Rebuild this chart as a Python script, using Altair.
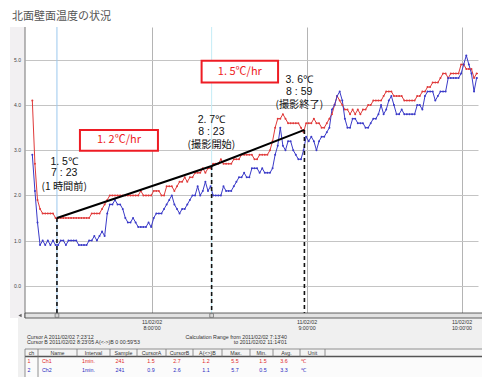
import altair as alt
import pandas as pd

# ---------------- data ----------------
title_text = "北面壁面温度の状況"
T0 = 7 * 60 + 13 + 40 / 60  # first sample 7:13'40, 1 min interval

ch1 = [4.1, 2.7, 1.9, 1.7, 1.6, 1.6, 1.6, 1.6, 1.6, 1.5,
       1.5, 1.5, 1.5, 1.5, 1.5, 1.5, 1.5, 1.5, 1.5, 1.5, 1.5, 1.5, 1.5,
       1.6, 1.6, 1.6, 1.6,
       1.7, 1.8, 1.9,
       2.0, 2.0, 2.0, 2.0, 2.0, 2.0, 2.0, 2.0, 2.0, 2.0,
       2.0, 2.0, 2.1, 2.0, 2.0, 2.0, 2.0,
       2.1, 2.1, 2.1, 2.0, 2.0,
       2.2, 2.2, 2.2, 2.1, 2.2,
       2.3, 2.3, 2.4, 2.3,
       2.4, 2.4, 2.5, 2.5, 2.5,
       2.6, 2.5, 2.6, 2.6,
       2.7, 2.7, 2.7, 2.8, 2.7, 2.7, 2.7, 2.7,
       2.8, 2.8, 2.8, 2.9, 2.9, 2.9, 2.9,
       2.9, 2.8, 2.8, 2.9, 2.9, 2.9, 2.9, 3.0, 3.2,
       3.5, 3.7, 3.7, 3.8, 3.7, 3.6, 3.6, 3.6, 3.6, 3.6, 3.5, 3.4,
       3.6, 3.6, 3.6, 3.7, 3.6, 3.6, 3.5, 3.5, 3.6, 3.7, 3.8, 4.0,
       4.2, 4.1, 4.0, 3.9, 3.9, 3.8, 3.9, 3.8, 3.9, 3.8, 3.9, 3.9,
       4.0, 4.0, 4.1, 4.1, 4.1, 4.1, 4.2, 4.3, 4.3, 4.3, 4.2, 4.2,
       4.2, 4.2, 4.1, 4.1, 4.1, 4.1, 4.1, 4.2, 4.2, 4.3, 4.3, 4.4,
       4.4, 4.5, 4.5, 4.5, 4.6, 4.7, 4.7, 4.6, 4.7, 4.7, 4.7, 4.7,
       4.9, 4.9, 4.8, 4.8, 4.8, 4.6, 4.7, 4.7]

ch2 = [2.9, 2.1, 1.4, 0.9, 1.0, 0.9, 1.0, 0.9, 1.0, 0.9,
       0.9, 1.0, 1.0, 0.9, 1.0, 1.0, 1.0, 1.0, 0.9, 0.9,
       0.9, 0.9, 1.0, 1.0, 1.1, 1.0, 1.1, 1.2, 1.1, 1.6,
       1.8, 1.8, 1.9, 1.8, 1.8, 1.7, 1.5, 1.4, 1.4, 1.5,
       1.4, 1.3, 1.3, 1.3, 1.3, 1.4, 1.3, 1.5, 1.6, 1.6,
       1.6, 1.7, 1.8, 1.9, 2.0, 1.8, 1.7, 1.6, 1.7, 1.7,
       1.8, 1.9, 2.0, 2.0, 2.2, 2.0, 2.1, 2.3, 2.1, 2.2,
       2.0, 2.0, 2.0, 2.0, 2.2, 2.1, 2.1, 2.1, 2.2, 2.3,
       2.4, 2.4, 2.5, 2.4, 2.4, 2.6, 2.6, 2.6, 2.5, 2.6,
       2.5, 2.5, 2.5, 2.6, 2.9, 3.1, 3.5, 3.1, 3.0, 3.2,
       3.2, 3.0, 2.9, 2.8, 2.8, 3.0, 3.3, 3.2, 3.3, 3.2,
       3.0, 3.2, 3.3, 3.3, 3.4, 3.5, 3.9, 4.0, 4.2, 4.3,
       4.1, 3.7, 3.5, 3.5, 3.7, 3.7, 3.6, 3.6, 3.6, 3.5,
       3.5, 3.6, 3.7, 3.7, 3.8, 4.0, 3.8, 3.9, 4.1, 4.2,
       4.0, 3.8, 3.8, 3.9, 3.8, 3.8, 3.8, 3.8, 3.8, 4.0,
       4.0, 3.9, 4.2, 4.3, 4.3, 4.3, 4.1, 4.2, 4.3, 4.3,
       4.3, 4.6, 4.6, 4.6, 4.6, 4.6, 4.7, 4.9, 5.1, 4.9,
       4.7, 4.3, 4.6, 4.6]

series_names = ["Ch1", "Ch2"]
series_colors = ["#e03a3a", "#3a3ac8"]

x_tick_values = [480, 540, 600]
x_tick_labels = ["11/02/02\n8:00'00", "11/02/02\n9:00'00", "11/02/02\n10:00'00"]
y_tick_values = [0, 1, 2, 3, 4, 5]

cursor_times = [443.2, 503.083]          # Cursor A 7:23'12, Cursor B 8:23'05
cursor_colors = ["#9cc8ee", "#c4ecf6"]

trend_times = [443.2, 503.083, 539.0]    # 7:23, 8:23, 8:59
trend_vals = [1.5, 2.65, 3.45]

# annotation blocks: temperature / time lines (latin) and note line (CJK)
ann_t_latin = [446, 446, 503, 503, 537, 537]
ann_v_latin = [2.746, 2.485, 3.681, 3.415, 4.567, 4.301]
ann_s_latin = ["1. 5℃", "7 : 23", "2. 7℃", "8 : 23", "3. 6℃", "8 : 59"]
ann_t_cjk = [446, 503, 537]
ann_v_cjk = [2.186, 3.116, 4.003]
ann_s_cjk = ["(1 時間前)", "(撮影開始)", "(撮影終了)"]

rate_t1 = [452.1, 499.2]
rate_t2 = [482.3, 528.8]
rate_v1 = [3.45, 4.98]
rate_v2 = [2.99, 4.50]
rate_texts = ["1. 2℃/hr", "1. 5℃/hr"]

cursor_info = ["Cursor A 2011/02/02   7:23'12",
               "Cursor B 2011/02/02   8:23'05   A(<->)B 0 00:59'53"]
calc_info = ["Calculation Range from 2011/02/02   7:13'40",
             "to 2011/02/02  11:14'01"]

table_header = ["ch", "Name", "Interval", "Sample", "CursorA", "CursorB",
                "A(<>)B", "Max.", "Min.", "Avg.", "Unit"]
table_rows = [["1", "Ch1", "1min.", "241", "1.5", "2.7", "1.2", "5.5", "1.5", "3.6", "℃"],
              ["2", "Ch2", "1min.", "241", "0.9", "2.6", "1.1", "5.7", "0.5", "3.3", "℃"]]

# ---------------- layout ----------------
W, H = 453, 286
XDOM = [430.83, 606.2]
YDOM = [-0.605, 5.73]
xs = alt.Scale(domain=XDOM, nice=False, zero=False)
ys = alt.Scale(domain=YDOM, nice=False, zero=False)
xa = alt.Axis(values=x_tick_values, grid=True, gridColor="#b4b4b4", gridWidth=1,
              labels=False, ticks=False, domain=False, title="")
ya = alt.Axis(values=y_tick_values, grid=True, gridColor="#c4c4c4", gridWidth=1,
              labels=False, ticks=False, domain=False, title="")

def X(f="t"):
    return alt.X(f"{f}:Q", scale=xs, axis=xa)

def Y(f="v"):
    return alt.Y(f"{f}:Q", scale=ys, axis=ya)

one = pd.DataFrame({"k": [0]})
SMALL = "Liberation Sans"
JP = "Noto Sans CJK JP"

def txt(x, y, s, size=5.3, color="#333333", align="center", font=SMALL, baseline="middle"):
    return alt.Chart(one).mark_text(text=s, fontSize=size, color=color, align=align,
                                    baseline=baseline, font=font).encode(
        x=alt.value(x), y=alt.value(y))

def rect(x, x2, y, y2, fill, stroke="", sw=0.0):
    kw = dict(fill=fill)
    if stroke:
        kw.update(stroke=stroke, strokeWidth=sw)
    return alt.Chart(one).mark_rect(**kw).encode(
        x=alt.value(x), x2=alt.value(x2), y=alt.value(y), y2=alt.value(y2))

def hline(x, x2, y, color="#555555", sw=1.0):
    return alt.Chart(one).mark_rule(color=color, strokeWidth=sw).encode(
        x=alt.value(x), x2=alt.value(x2), y=alt.value(y))

def vline(x, y, y2, color="#555555", sw=1.0):
    return alt.Chart(one).mark_rule(color=color, strokeWidth=sw).encode(
        x=alt.value(x), y=alt.value(y), y2=alt.value(y2))

layers = []

# backgrounds
layers.append(rect(-15, 0, 0, 291, "#f2f0f2"))
layers.append(rect(-7, 465, 291, 350, "#f0f0f0"))
layers.append(rect(0, 465, 322, 350, "#fbfbfb"))

lines_df = pd.DataFrame({
    "t": [T0 + i for i in range(len(ch1))] + [T0 + i for i in range(len(ch2))],
    "v": ch1 + ch2,
    "ch": ["Ch1"] * len(ch1) + ["Ch2"] * len(ch2),
})

cur_df = pd.DataFrame({"t": cursor_times, "c": cursor_colors})
layers.append(alt.Chart(cur_df).mark_rule(strokeWidth=1).encode(
    x=X(), color=alt.Color("c:N", scale=None), y=alt.value(0), y2=alt.value(H)))

layers.append(vline(0, 0, 291, "#8a8a8a", 1.2))

layers.append(alt.Chart(lines_df).mark_line(
    strokeWidth=1, clip=True,
    point=alt.OverlayMarkDef(filled=True, size=4, clip=True)).encode(
    x=X(), y=Y(),
    color=alt.Color("ch:N", scale=alt.Scale(domain=series_names, range=series_colors), legend=None),
    detail="ch:N"))

# dashed drop lines and trend line
trend_df = pd.DataFrame({"t": trend_times, "v": trend_vals})
layers.append(alt.Chart(trend_df).mark_rule(color="#111111", strokeWidth=1.6, strokeDash=[4, 3]).encode(
    x=X(), y=Y(), y2=alt.value(H + 4)))
layers.append(alt.Chart(trend_df).mark_line(color="#000000", strokeWidth=2).encode(x=X(), y=Y()))

# rate boxes
rate_df = pd.DataFrame({"t": rate_t1, "t2": rate_t2, "v": rate_v1, "v2": rate_v2,
                        "tc": [(a + b) / 2 for a, b in zip(rate_t1, rate_t2)],
                        "vc": [(a + b) / 2 for a, b in zip(rate_v1, rate_v2)],
                        "s": rate_texts})
layers.append(alt.Chart(rate_df).mark_rect(fill="#ffffff", stroke="#ee1c24", strokeWidth=2).encode(
    x=X(), x2="t2:Q", y=Y(), y2="v2:Q"))
layers.append(alt.Chart(rate_df).mark_text(fontSize=11, color="#ee1c24", font=JP, baseline="middle").encode(
    x=alt.X("tc:Q", scale=xs, axis=xa), y=alt.Y("vc:Q", scale=ys, axis=ya), text="s:N"))

# annotations
ann_latin_df = pd.DataFrame({"t": ann_t_latin, "v": ann_v_latin, "s": ann_s_latin})
layers.append(alt.Chart(ann_latin_df).mark_text(fontSize=10.5, color="#111111", font="Liberation Sans",
                                                baseline="middle").encode(
    x=X(), y=Y(), text="s:N"))
ann_cjk_df = pd.DataFrame({"t": ann_t_cjk, "v": ann_v_cjk, "s": ann_s_cjk})
layers.append(alt.Chart(ann_cjk_df).mark_text(fontSize=10.2, color="#111111", font=JP,
                                              baseline="middle").encode(
    x=X(), y=Y(), text="s:N"))

# y tick labels
ylab_df = pd.DataFrame({"v": y_tick_values, "s": [f"{v:.1f}" for v in y_tick_values]})
layers.append(alt.Chart(ylab_df).mark_text(fontSize=5, color="#444444", font=SMALL, align="right",
                                           baseline="middle").encode(
    x=alt.value(-4), y=Y(), text="s:N"))

# scroll bar
layers.append(rect(0, 465, 286, 291, "#e2e2e2", "#3c3c3c", 0.8))
layers.append(alt.Chart(one).mark_point(shape="triangle-left", filled=True, size=14, color="#222222").encode(
    x=alt.value(-5), y=alt.value(288.5)))
layers.append(alt.Chart(cur_df).mark_square(size=14, fill="#d8d8d8", stroke="#555555", strokeWidth=0.6,
                                            opacity=1).encode(x=X(), y=alt.value(288.5)))

# x tick labels
xlab_df = pd.DataFrame({"t": x_tick_values, "s": x_tick_labels})
layers.append(alt.Chart(xlab_df).mark_text(fontSize=5.3, color="#333333", font=SMALL, baseline="top",
                                           lineBreak="\n", lineHeight=6).encode(
    x=X(), y=alt.value(293), text="s:N"))

# cursor / calc text
layers.append(txt(2, 309.7, cursor_info[0], align="left"))
layers.append(txt(2, 315.2, cursor_info[1], align="left"))
layers.append(txt(262, 309.7, calc_info[0], align="right"))
layers.append(txt(262, 315.2, calc_info[1], align="right"))

# table
col_div = [0, 13, 52, 85, 112, 141, 168, 197, 225, 248, 275, 300]
head_cx = [(a + b) / 2 for a, b in zip(col_div[:-1], col_div[1:])]
val_x = [4, 17, 57, 95, 126, 152, 181, 210, 238, 259, 276]
val_align = ["center", "left", "left", "center", "center", "center", "center",
             "center", "center", "center", "left"]
row_y = [333.5, 343.0]
row_colors = ["#e02828", "#2a2ac0"]

layers.append(rect(0, 465, 322, 329.5, "#f4f4f4"))
layers.append(hline(0, 465, 322, "#777777", 0.8))
layers.append(hline(0, 465, 329.5, "#555555", 1.6))
for xd in col_div:
    layers.append(vline(xd, 322, 329.5, "#777777", 0.8))
for xd in col_div[:2]:
    layers.append(vline(xd, 329.5, 350, "#777777", 0.8))
for cx, h in zip(head_cx, table_header):
    layers.append(txt(cx, 325.8, h, color="#333333"))
for r, row in enumerate(table_rows):
    for vx, al, s in zip(val_x, val_align, row):
        layers.append(txt(vx, row_y[r], s, color=row_colors[r], align=al))

# title
layers.append(txt(-13, -16.5, title_text, size=11, color="#555555", align="left", font=JP, baseline="top"))

chart = alt.layer(*layers).properties(
    width=W, height=H,
    padding={"left": 17, "top": 19, "right": 4, "bottom": 64},
    autosize=alt.AutoSizeParams(type="none"),
).configure_view(strokeWidth=0)

chart.save("out.html", embed_options={"renderer": "svg", "actions": False})
